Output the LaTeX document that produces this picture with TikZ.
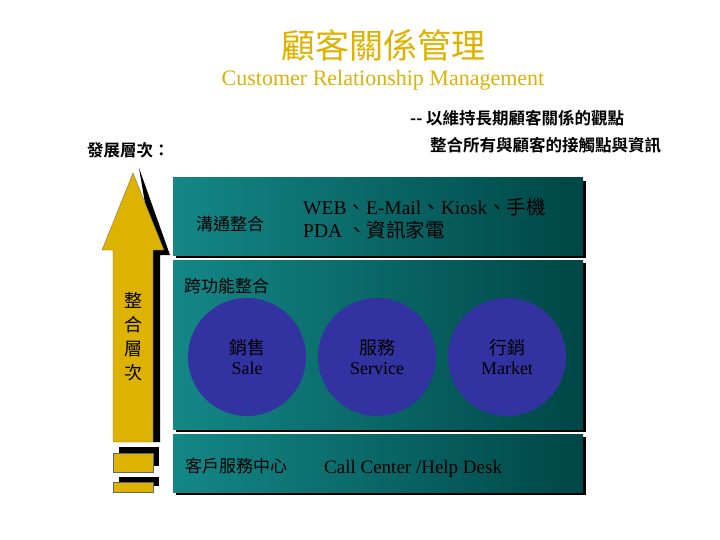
\documentclass[tikz,border=0pt]{standalone}
\usepackage{fontspec}
\setmainfont{Liberation Serif}
\newfontfamily\cjk{Noto Sans CJK TC}
\newfontfamily\cjkb{Noto Sans CJK TC}[BoldFont={* Bold}]
\begin{document}
\begin{tikzpicture}[x=1pt,y=-1pt,
  panel/.style={left color=tl,right color=td,draw=none},
  shadow/.style={fill=black},
  circ/.style={circle,fill=cb,minimum size=118pt,inner sep=0pt,align=center,font=\fontsize{18}{20}\selectfont},
  lbl/.style={font=\cjk\fontsize{17}{19}\selectfont,inner sep=0pt},
  sub/.style={font=\cjkb\bfseries\fontsize{16.5}{18}\selectfont,anchor=west,inner sep=0pt}]
\definecolor{goldc}{RGB}{222,178,0}
\definecolor{tl}{RGB}{20,135,135}
\definecolor{td}{RGB}{0,70,70}
\definecolor{cb}{RGB}{50,50,160}
\useasboundingbox[fill=white] (0,0) rectangle (720,540);
% title
\node[font=\cjk\fontsize{34}{36}\selectfont,text=goldc] (t1) at (383,45) {顧客關係管理};
\node[font=\fontsize{22}{24}\selectfont,text=goldc] (t2) at (383,80) {Customer Relationship Management};
\node[sub] (s1) at (410,118) {-- 以維持長期顧客關係的觀點};
\node[sub] (s2) at (430,145) {整合所有與顧客的接觸點與資訊};
\node[sub] (s3) at (87,150) {發展層次：};
% panels
\fill[shadow] (176,181) rectangle (586,258);
\fill[panel] (173,178) rectangle (583,255);
\fill[shadow] (176,263) rectangle (586,432);
\fill[panel] (173,260) rectangle (583,429);
\fill[shadow] (176,437) rectangle (586,495);
\fill[panel] (173,434) rectangle (583,492);
% arrow
\fill[shadow] (139,168) -- (170,255) -- (160,255) -- (160,442) -- (153,442) -- (153,250) -- cycle;
\filldraw[fill=goldc,draw=black!60,line width=0.3pt] (133,173) -- (164,250) -- (153,250) -- (153,442) -- (113,442) -- (113,250) -- (102,250) -- cycle;
\fill[shadow] (119,447) rectangle (159,466);
\filldraw[fill=goldc,draw=black!60,line width=0.3pt] (113,453) rectangle (153,472);
\fill[shadow] (119,477) rectangle (159,486);
\filldraw[fill=goldc,draw=black!60,line width=0.3pt] (113,482) rectangle (153,492);
\node[font=\cjk\fontsize{18}{24}\selectfont,align=center] (v) at (133,337) {整\\合\\層\\次};
% texts
\node[lbl] (a1) at (230,224) {溝通整合};
\node[font=\fontsize{19.5}{23}\selectfont,anchor=west,align=left,inner sep=0pt] (a2) at (303,219) {WEB{\cjk、}E-Mail{\cjk、}Kiosk{\cjk、手機}\\PDA {\cjk、資訊家電}};
\node[lbl,anchor=west] (b1) at (184,286) {跨功能整合};
\node[circ] (c1) at (247,357) {{\cjk 銷售}\\Sale};
\node[circ] (c2) at (377,357) {{\cjk 服務}\\Service};
\node[circ] (c3) at (507,357) {{\cjk 行銷}\\Market};
\node[lbl,anchor=west] (d1) at (185,466) {客戶服務中心};
\node[font=\fontsize{19}{22}\selectfont,anchor=west,inner sep=0pt] (d2) at (324,469) {Call Center /Help Desk};
\end{tikzpicture}
\end{document}
